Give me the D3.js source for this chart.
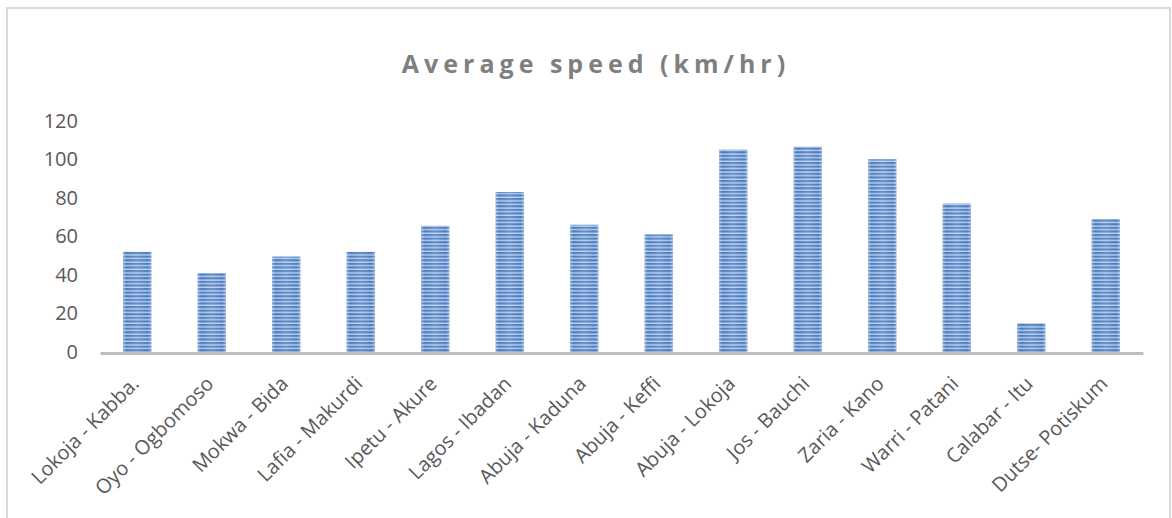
<!DOCTYPE html>
<html>
<head>
<meta charset="utf-8">
<script src="https://cdn.jsdelivr.net/npm/d3@7"></script>
<style>
  html, body { margin: 0; padding: 0; background: #fff; }
  svg { display: block; }
</style>
</head>
<body>
<div id="chart"></div>
<script>
// Road segments and their average speeds
const routes = [
  "Lokoja - Kabba.", "Oyo - Ogbomoso", "Mokwa - Bida", "Lafia - Makurdi",
  "Ipetu - Akure", "Lagos - Ibadan", "Abuja - Kaduna", "Abuja - Keffi",
  "Abuja - Lokoja", "Jos - Bauchi", "Zaria - Kano", "Warri - Patani",
  "Calabar - Itu", "Dutse- Potiskum"
];
const speeds = [52, 41, 49.5, 52, 65.5, 83, 66, 61, 105, 106.5, 100, 77, 15, 69];
const yTicks = [0, 20, 40, 60, 80, 100, 120];
const chartTitle = "Average speed (km/hr)";

const W = 1172, H = 518;
const FONT = "'Open Sans', 'Noto Sans', sans-serif";
const svg = d3.select("#chart").append("svg").attr("width", W).attr("height", H);

// Outer chart frame
svg.append("rect")
  .attr("x", 7).attr("y", 8).attr("width", 1163).attr("height", 530)
  .attr("fill", "#fff").attr("stroke", "#d9d9d9").attr("stroke-width", 2);

const defs = svg.append("defs");

// Narrow horizontal stripe fill for the bars
const pat = defs.append("pattern")
  .attr("id", "stripes").attr("patternUnits", "userSpaceOnUse")
  .attr("width", 10).attr("height", 3.6);
pat.append("rect").attr("width", 10).attr("height", 3.6).attr("fill", "#b8cdeb");
pat.append("rect").attr("y", 0).attr("width", 10).attr("height", 2.2).attr("fill", "#4a7cc0");

// Soft highlight across each bar's width
const sheen = defs.append("linearGradient").attr("id", "sheen")
  .attr("x1", 0).attr("x2", 1).attr("y1", 0).attr("y2", 0);
sheen.append("stop").attr("offset", "0%").attr("stop-color", "#fff").attr("stop-opacity", 0.3);
sheen.append("stop").attr("offset", "12%").attr("stop-color", "#fff").attr("stop-opacity", 0.0);
sheen.append("stop").attr("offset", "50%").attr("stop-color", "#fff").attr("stop-opacity", 0.15);
sheen.append("stop").attr("offset", "88%").attr("stop-color", "#fff").attr("stop-opacity", 0.0);
sheen.append("stop").attr("offset", "100%").attr("stop-color", "#fff").attr("stop-opacity", 0.3);

const x = d3.scaleBand()
  .domain(routes)
  .range([100, 1143])
  .paddingInner(0.62)
  .paddingOuter(0.31);

const y = d3.scaleLinear().domain([0, 120]).range([352, 120.7]);

// Title
svg.append("text")
  .attr("x", 596).attr("y", 73)
  .attr("text-anchor", "middle")
  .attr("font-family", FONT)
  .attr("font-weight", "bold")
  .attr("font-size", 25)
  .attr("letter-spacing", 5)
  .attr("fill", "#7f7f7f")
  .text(chartTitle);

// Y axis labels (no axis line, no gridlines)
const yAxis = d3.axisLeft(y).tickValues(yTicks).tickSize(0).tickPadding(0);
const yg = svg.append("g").attr("transform", "translate(78,0)").call(yAxis);
yg.select(".domain").remove();
yg.selectAll("text")
  .attr("font-family", FONT)
  .attr("font-size", 20)
  .attr("fill", "#595959");

// Bars
const bars = svg.append("g");
bars.selectAll("rect.bar")
  .data(speeds)
  .join("rect")
  .attr("class", "bar")
  .attr("x", (d, i) => x(routes[i]))
  .attr("y", d => y(d))
  .attr("width", x.bandwidth())
  .attr("height", d => y(0) - y(d))
  .attr("fill", "url(#stripes)");
bars.selectAll("rect.sheen")
  .data(speeds)
  .join("rect")
  .attr("class", "sheen")
  .attr("x", (d, i) => x(routes[i]))
  .attr("y", d => y(d))
  .attr("width", x.bandwidth())
  .attr("height", d => y(0) - y(d))
  .attr("fill", "url(#sheen)");

// Category axis
const xAxis = d3.axisBottom(x).tickSize(0).tickPadding(0);
const xg = svg.append("g").attr("transform", `translate(0,${y(0) + 1})`).call(xAxis);
xg.select(".domain").attr("stroke", "#bfbfbf").attr("stroke-width", 3);
xg.selectAll("text")
  .attr("font-family", FONT)
  .attr("font-size", 20)
  .attr("fill", "#595959")
  .attr("text-anchor", "end")
  .attr("dy", 0)
  .attr("transform", "translate(3,32) rotate(-45)");
</script>
</body>
</html>
